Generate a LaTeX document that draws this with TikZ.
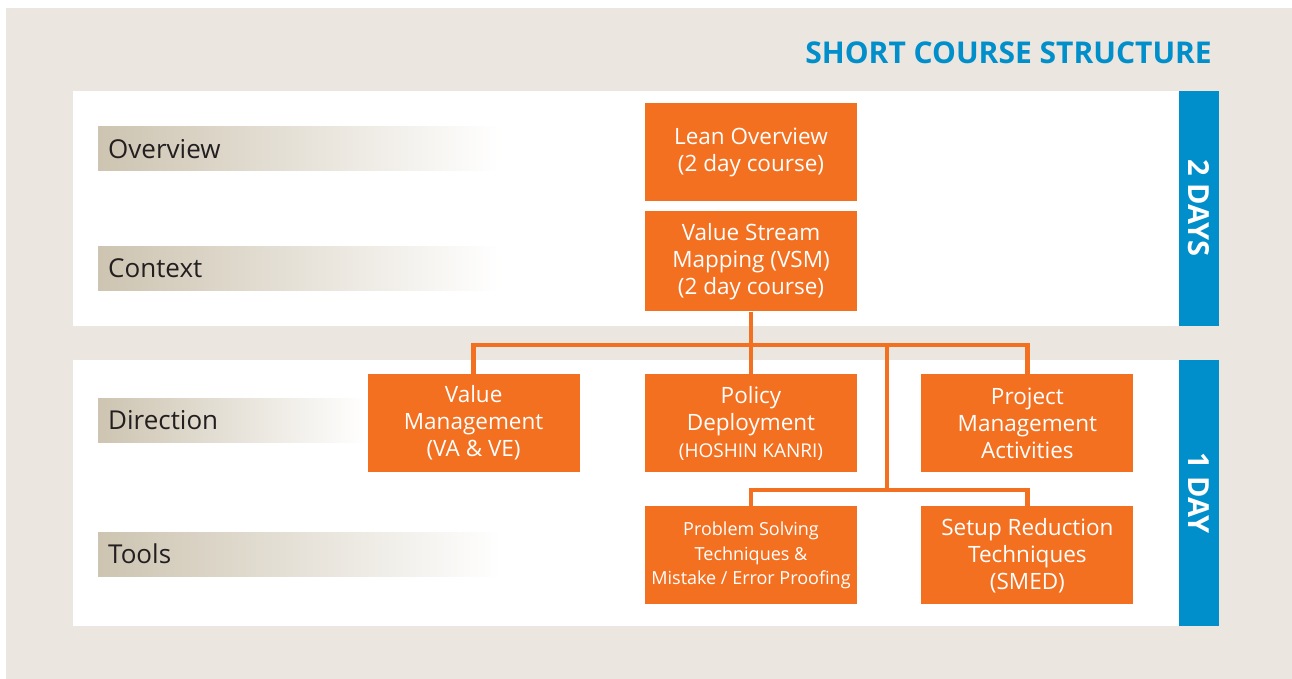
\documentclass[tikz,border=0pt]{standalone}
\usepackage{fontspec}
\setmainfont{Open Sans}
\usetikzlibrary{positioning}
\definecolor{leanorange}{HTML}{F37021}
\definecolor{leanblue}{HTML}{008FCB}
\definecolor{leanbeige}{HTML}{EBE6DF}
\definecolor{leantan}{HTML}{CDC4B1}
\definecolor{leantext}{HTML}{231F20}

\begin{document}
\begin{tikzpicture}[x=1pt,y=-1pt,
    box/.style={fill=leanorange, text=white, minimum width=212pt, minimum height=98pt,
      inner sep=0pt, align=center, font=\fontsize{22.5}{27}\selectfont},
    link/.style={draw=leanorange, line width=4.5pt},
    stage/.style={left color=leantan, right color=white, minimum height=44pt,
      inner xsep=10pt, inner ysep=0pt, align=left, anchor=west, text=leantext,
      font=\fontsize{26}{30}\selectfont},
    days/.style={text=white, rotate=-90, font=\bfseries\fontsize{29}{30}\selectfont}]
      \useasboundingbox (0,0) rectangle (1292,679);
      \fill[leanbeige] (6,8) rectangle (1292,679);
      \fill[white] (73,91) rectangle (1179,326);
      \fill[white] (73,360) rectangle (1179,626);
      \fill[leanblue] (1179,91) rectangle (1219,326);
      \fill[leanblue] (1179,360) rectangle (1219,626);

      \node [anchor=base east, text=leanblue, inner sep=0pt,
        font=\bfseries\fontsize{30}{36}\selectfont] (title) at (1212,64) {SHORT COURSE STRUCTURE};
      \node [days] (d2) at (1199,208) {2 DAYS};
      \node [days] (d1) at (1199,493) {1 DAY};

      \node [stage, text width=381pt] (ov) at (98,149) {Overview};
      \node [stage, text width=381pt] (cx) at (98,268) {Context};
      \node [stage, text width=247pt] (dr) at (98,420) {Direction};
      \node [stage, text width=383pt] (tl) at (98,554) {Tools};

      \node [box] (1) at (751,152) {Lean Overview\\(2 day course)};
      \node [box, below=10pt of 1, minimum height=100pt] (2) {Value Stream\\Mapping (VSM)\\(2 day course)};
      \node [box] (4) at (751,423) {Policy\\Deployment\\{\fontsize{19}{27}\selectfont(HOSHIN KANRI)}};
      \node [box, left=65pt of 4] (3) {Value\\Management\\(VA \& VE)};
      \node [box, right=64pt of 4] (5) {Project\\Management\\Activities};
      \node [box, below=34pt of 4, font=\fontsize{18}{24.5}\selectfont] (6) {Problem Solving\\Techniques \&\\Mistake / Error Proofing};
      \node [box, right=64pt of 6] (7) {Setup Reduction\\Techniques\\(SMED)};

      \coordinate (t) at (751,345);
      \coordinate (b) at (887,345);
      \coordinate (c) at (887,490);
      \draw[link] (2) -- (4);
      \draw[link] (3) |- (t) -| (5);
      \draw[link] (b) -- (c);
      \draw[link] (6) |- (c) -| (7);
    \end{tikzpicture}
\end{document}
